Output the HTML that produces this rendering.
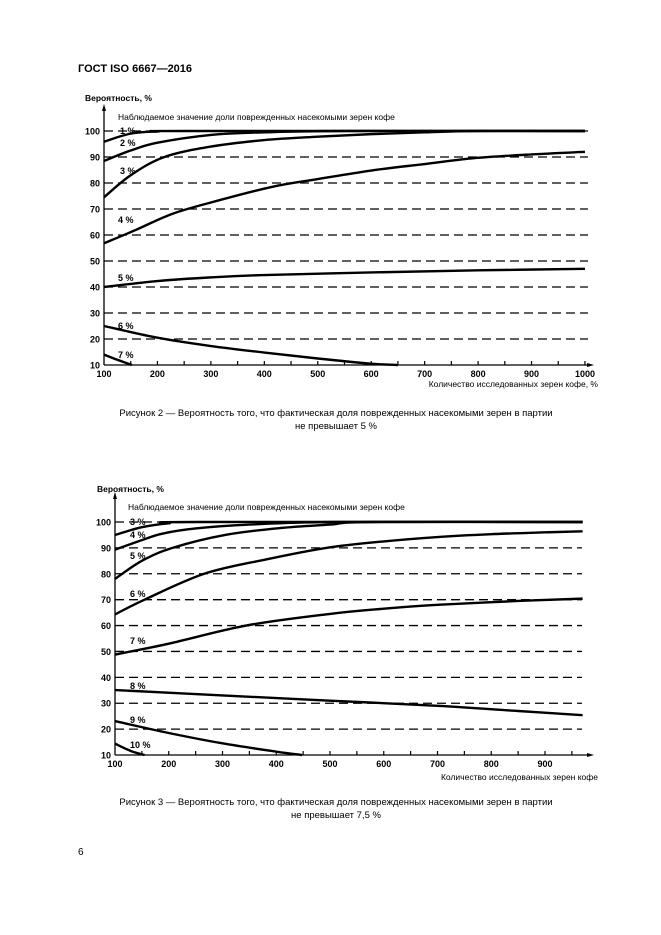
<!DOCTYPE html>
<html><head><meta charset="utf-8"><style>
body{margin:0;background:#fff;}
svg{display:block;font-family:"Liberation Sans",Arial,sans-serif;}
</style></head><body>
<svg id="s" width="661" height="935" viewBox="0 0 661 935" xmlns="http://www.w3.org/2000/svg">
<rect width="661" height="935" fill="#fff"/>
<text x="78" y="72" font-size="11" font-weight="bold">ГОСТ ISO 6667—2016</text>
<text x="336" y="416" font-size="9.5" text-anchor="middle">Рисунок 2 — Вероятность того, что фактическая доля поврежденных насекомыми зерен в партии</text>
<text x="336" y="429" font-size="9.5" text-anchor="middle">не превышает 5 %</text>
<text x="336" y="805" font-size="9.5" text-anchor="middle">Рисунок 3 — Вероятность того, что фактическая доля поврежденных насекомыми зерен в партии</text>
<text x="336" y="818" font-size="9.5" text-anchor="middle">не превышает 7,5 %</text>
<text x="78" y="855" font-size="10">6</text>
<g id="g"></g>
</svg>
<script>
var g=document.getElementById('g'),h='';
function chart(c){
  var X=function(v){return c.x0+(v-100)*c.sx}, Y=function(p){return c.y0+(100-p)*c.sy};
  // grid
  for(var p=20;p<=100;p+=10){h+='<line x1="'+X(100)+'" y1="'+Y(p)+'" x2="'+c.xe+'" y2="'+Y(p)+'" stroke="#000" stroke-width="1.3" stroke-dasharray="9,5"/>';}
  for(var p=10;p<=100;p+=10){h+='<text x="'+(X(100)-4)+'" y="'+(Y(p)+3.5)+'" font-size="9" font-weight="bold" text-anchor="end">'+p+'</text>';}
  // axes
  h+='<line x1="'+X(100)+'" y1="'+Y(10)+'" x2="'+X(100)+'" y2="'+c.yt+'" stroke="#000" stroke-width="1.3"/>';
  h+='<polygon points="'+X(100)+','+(c.yt-4)+' '+(X(100)-2)+','+(c.yt+3)+' '+(X(100)+2)+','+(c.yt+3)+'"/>';
  h+='<line x1="'+X(100)+'" y1="'+Y(10)+'" x2="'+c.xa+'" y2="'+Y(10)+'" stroke="#000" stroke-width="1.3"/>';
  h+='<polygon points="'+(c.xa+4)+','+Y(10)+' '+(c.xa-3)+','+(Y(10)-2)+' '+(c.xa-3)+','+(Y(10)+2)+'"/>';
  for(var v=150;v<=c.vmax;v+=50){h+='<line x1="'+X(v)+'" y1="'+Y(10)+'" x2="'+X(v)+'" y2="'+(Y(10)-4)+'" stroke="#000" stroke-width="1.2"/>';}
  for(var v=100;v<=c.lmax;v+=100){h+='<text x="'+X(v)+'" y="'+(Y(10)+12)+'" font-size="9" font-weight="bold" text-anchor="middle">'+v+'</text>';}
  h+='<text x="'+c.tx+'" y="'+c.ty+'" font-size="8.5" font-weight="bold">Вероятность, %</text>';
  h+='<text x="'+c.sx0+'" y="'+c.sy0+'" font-size="8.5">Наблюдаемое значение доли поврежденных насекомыми зерен кофе</text>';
  h+='<text x="598" y="'+c.xly+'" font-size="8.5" text-anchor="end">'+c.xl+'</text>';
  c.curves.forEach(function(pts){
    var P=pts.map(function(q){return [X(q[0]),Y(q[1])]});
    var d='M'+P[0][0]+','+P[0][1];
    for(var i=0;i<P.length-1;i++){
      var p0=P[i-1]||P[i],p1=P[i],p2=P[i+1],p3=P[i+2]||P[i+1];
      d+=' C'+(p1[0]+(p2[0]-p0[0])/6)+','+(p1[1]+(p2[1]-p0[1])/6)+' '+(p2[0]-(p3[0]-p1[0])/6)+','+(p2[1]-(p3[1]-p1[1])/6)+' '+p2[0]+','+p2[1];
    }
    h+='<path d="'+d+'" fill="none" stroke="#000" stroke-width="2.4"/>';
  });
  c.labels.forEach(function(l){h+='<text x="'+l[0]+'" y="'+l[1]+'" font-size="9" font-weight="bold">'+l[2]+'</text>';});
}
chart({x0:104,sx:0.5344,y0:131,sy:2.6,xe:588,xa:590,yt:108,vmax:1000,lmax:1000,tx:85,ty:101,sx0:118,sy0:120,xly:387,xl:'Количество исследованных зерен кофе, %',
curves:[
 [[100,95.9],[150,99],[200,99.8],[260,100],[1000,100]],
 [[100,88.5],[150,92.5],[200,95.5],[300,98.5],[400,99.5],[550,100],[1000,100]],
 [[100,74.5],[150,83],[213,90],[300,94],[400,96.5],[500,97.8],[600,98.8],[700,99.5],[800,100],[1000,100]],
 [[100,56.8],[160,62],[226,68],[300,72.5],[414,78.5],[500,81.5],[600,84.8],[700,87.3],[790,89.5],[900,91],[1000,92]],
 [[100,40],[200,42.3],[300,43.7],[400,44.6],[600,45.6],[800,46.4],[1000,47]],
 [[100,25],[200,20.5],[300,17.3],[400,14.8],[500,12.5],[600,10.5],[650,10]],
 [[100,14],[125,12],[152,10]]
],
labels:[[120,134,'1 %'],[120,146,'2 %'],[120,174,'3 %'],[118,223,'4 %'],[118,281,'5 %'],[118,329,'6 %'],[118,358,'7 %']]});
chart({x0:115,sx:0.5375,y0:522,sy:2.589,xe:582,xa:590,yt:496,vmax:950,lmax:900,tx:97,ty:492,sx0:128,sy0:510,xly:780,xl:'Количество исследованных зерен кофе',
curves:[
 [[100,95],[150,98],[200,99.5],[253,100],[970,100]],
 [[100,89.3],[150,93],[188,95.5],[250,97.5],[350,99],[513,100],[970,100]],
 [[100,78],[150,85],[207,90],[305,95],[409,97.7],[500,99],[578,100],[970,100]],
 [[100,64.3],[155,70],[266,80],[380,85.5],[493,90],[600,92.5],[700,94.2],[800,95.3],[900,96],[970,96.4]],
 [[100,48.8],[200,53],[344,60],[500,64.5],[600,66.5],[700,68],[850,69.5],[970,70.4]],
 [[100,35.1],[300,33],[500,31],[700,29],[850,27],[970,25.4]],
 [[100,23.1],[200,18.5],[300,14.5],[400,11.3],[448,10]],
 [[100,14.4],[130,11.5],[155,10]]
],
labels:[[130,525,'3 %'],[130,538,'4 %'],[130,559,'5 %'],[130,597,'6 %'],[130,644,'7 %'],[130,689,'8 %'],[130,723,'9 %'],[130,748,'10 %']]});
g.innerHTML=h;
</script>
</body></html>
